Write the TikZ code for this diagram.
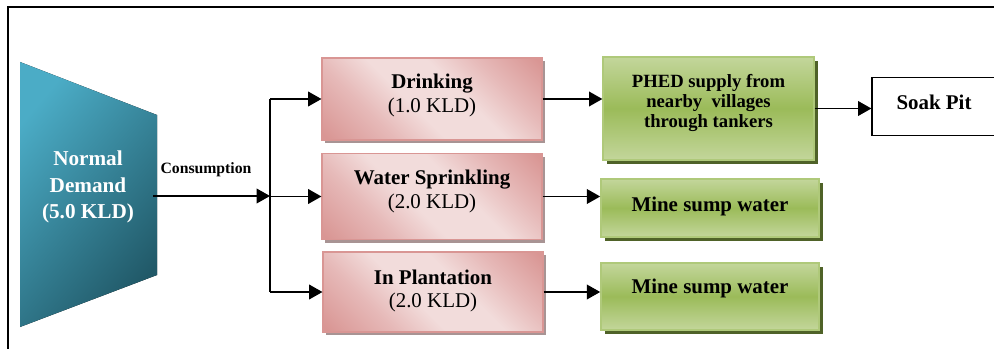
\documentclass[tikz,border=0pt]{standalone}
\usepackage{fontspec}
\setmainfont{Liberation Serif}
\usetikzlibrary{arrows.meta,shadows}

\definecolor{tealLight}{HTML}{4BACC6}
\definecolor{tealDark}{HTML}{215968}
\definecolor{pinkDark}{HTML}{D99694}
\definecolor{pinkMid}{HTML}{E6B9B8}
\definecolor{pinkLight}{HTML}{F2DCDB}
\definecolor{pinkShadow}{HTML}{A89494}
\definecolor{greenLight}{HTML}{C3D69B}
\definecolor{greenMid}{HTML}{9BBB59}
\definecolor{greenEdge}{HTML}{AFC97A}
\definecolor{greenShadow}{HTML}{4F6228}

\pgfdeclarehorizontalshading{pinkshade}{100bp}{color(0bp)=(pinkDark); color(16bp)=(pinkDark); color(32bp)=(pinkMid); color(44bp)=(pinkLight); color(58bp)=(pinkLight); color(70bp)=(pinkMid); color(84bp)=(pinkDark); color(100bp)=(pinkDark)}
\pgfdeclareverticalshading{greenshade}{100bp}{color(0bp)=(greenLight); color(25bp)=(greenLight); color(50bp)=(greenMid); color(75bp)=(greenLight); color(100bp)=(greenLight)}

\tikzset{
  pinkbox/.style={draw=pinkDark, line width=0.8pt, shading=pinkshade, shading angle=45,
    minimum width=165pt, align=center, font=\fontsize{15.7pt}{17.5pt}\selectfont,
    drop shadow={shadow xshift=2.5pt, shadow yshift=-2.5pt, fill=pinkShadow, opacity=1}},
  greenbox/.style={draw=greenEdge, line width=1.2pt, shading=greenshade,
    align=center, font=\bfseries\fontsize{15.7pt}{15pt}\selectfont,
    drop shadow={shadow xshift=3pt, shadow yshift=-3pt, fill=greenShadow, opacity=1}},
  soakbox/.style={draw=black, line width=0.9pt, minimum width=93pt, minimum height=44pt,
    font=\bfseries\fontsize{15.7pt}{17.5pt}\selectfont},
  flow/.style={line width=1.1pt, -{Triangle[length=10pt,width=11pt]}},
  link/.style={line width=1.1pt}
}

\begin{document}
\begin{tikzpicture}[x=0.75pt, y=-0.75pt]
    \path[use as bounding box, clip] (0,0) rectangle (994,349);
    % Frame
    \draw[line width=0.9pt] (8,349) -- (8,7) -- (994,7);
    % Demand
    \fill[top color=tealLight, bottom color=tealDark, shading angle=50]
      (20,62) -- (157,115) -- (157,275) -- (20,327) -- cycle;
    \node[text=white, align=center, font=\bfseries\fontsize{15.9pt}{20pt}\selectfont] (demand) at (88,187) {Normal\\Demand\\(5.0 KLD)};
    \node[font=\bfseries\fontsize{11.8pt}{13pt}\selectfont] (cons) at (206,170) {Consumption};
    \coordinate (demout) at (153,196);
    \coordinate (split) at (270,196);
    % Uses
    \node[pinkbox, minimum height=61.5pt, text depth=8.5pt] (drink) at (432,99) {\textbf{Drinking}\\(1.0 KLD)};
    \node[pinkbox, minimum height=65pt, text depth=11pt] (spray) at (432,196.5) {\textbf{Water Sprinkling}\\(2.0 KLD)};
    \node[pinkbox, minimum height=60pt, text depth=5pt] (plant) at (433,292) {\textbf{In Plantation}\\(2.0 KLD)};
    % Sources
    \node[greenbox, minimum width=158pt, minimum height=77pt, text depth=12pt, font=\bfseries\fontsize{14pt}{15pt}\selectfont] (phed) at (708.5,108.5) {PHED supply from\\nearby\ \ villages\\through tankers};
    \node[greenbox, minimum width=163.5pt, minimum height=43.5pt, text depth=5pt] (sump1) at (710,208) {Mine sump water};
    \node[greenbox, minimum width=163.5pt, minimum height=50pt, text depth=15pt] (sump2) at (710,296.5) {Mine sump water};
    \node[soakbox, text depth=7pt] (soak) at (934,106.5) {Soak Pit};
    % Arrows
    \draw[flow] (demout) -- (split);
    \draw[link] (split |- drink.west) -- (split |- plant.west);
    \foreach \b in {drink,spray,plant}
      \draw[flow] (split |- \b.west) -- (\b.west);
    \draw[flow] (drink.east) -- (drink.east -| phed.west);
    \draw[flow] (spray.east) -- (spray.east -| sump1.west);
    \draw[flow] (plant.east) -- (plant.east -| sump2.west);
    \draw[flow] (phed.east) -- (phed.east -| soak.west);
\end{tikzpicture}
\end{document}
